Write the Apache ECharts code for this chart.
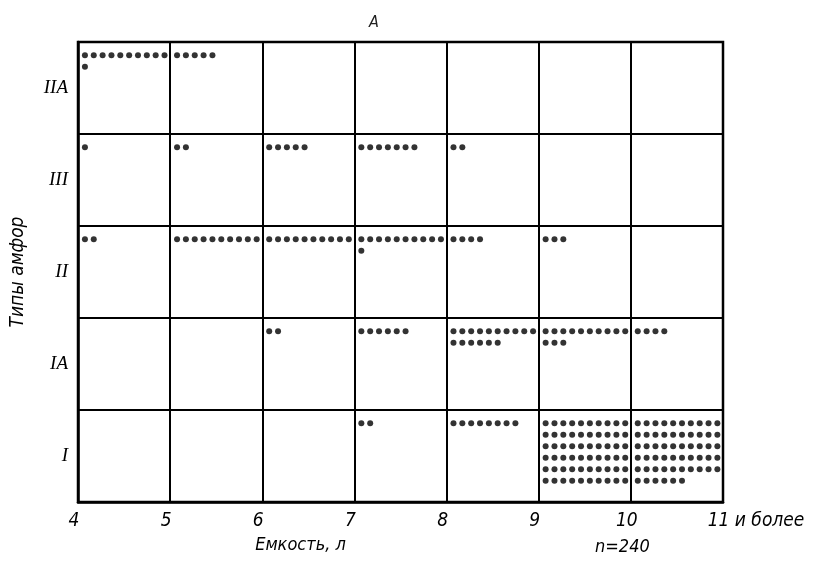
<!DOCTYPE html>
<html>
<head>
<meta charset="utf-8">
<script src="https://cdn.jsdelivr.net/npm/echarts@6/dist/echarts.min.js"></script>
<style>
html,body{margin:0;padding:0;background:#fff;}
#chart{width:813px;height:561px;}
</style>
</head>
<body>
<div id="chart"></div>
<script>
// Capacity classes (x-axis ticks, litres)
var xTicks = [4, 5, 6, 7, 8, 9, 10, 11];
var lastTickLabel = '11 и более';
// Amphora types, bottom to top
var types = ['I', 'IА', 'II', 'III', 'IIА'];
// Number of amphorae per capacity class (4–5, 5–6, ..., 10–11+), per type
var countsI   = [0, 0, 0, 2, 8, 60, 56];
var countsIA  = [0, 0, 2, 6, 16, 13, 4];
var countsII  = [2, 10, 10, 11, 4, 3, 0];
var countsIII = [1, 2, 5, 7, 2, 0, 0];
var countsIIA = [11, 5, 0, 0, 0, 0, 0];
var totalN = 240;

var countsByType = [countsI, countsIA, countsII, countsIII, countsIIA];

// Unit-chart layout: one dot per amphora, 10 per line inside each cell
var perLine = 10;
var dots = [];
countsByType.forEach(function (row, k) {
  row.forEach(function (n, j) {
    for (var i = 0; i < n; i++) {
      dots.push([
        xTicks[j] + 0.075 + (i % perLine) * 0.096,
        (k + 1) - 0.145 - Math.floor(i / perLine) * 0.125
      ]);
    }
  });
});

var FONT = "'Liberation Sans Narrow','DejaVu Sans Condensed','Liberation Sans',sans-serif";
var chart = echarts.init(document.getElementById('chart'));
chart.setOption({
  backgroundColor: '#fff',
  animation: false,
  title: [
    { text: 'А', left: 364, top: 10,
      textStyle: { fontFamily: FONT, fontStyle: 'italic', fontWeight: 'normal', fontSize: 16, color: '#222' } },
    { text: 'n=' + totalN, left: 590, top: 533,
      textStyle: { fontFamily: FONT, fontStyle: 'italic', fontWeight: 'normal', fontSize: 18, color: '#000' } }
  ],
  grid: { left: 78, right: 90, top: 42, bottom: 59, show: true, borderColor: '#000', borderWidth: 2.5, backgroundColor: 'transparent' },
  xAxis: {
    type: 'value', min: 4, max: 11, interval: 1,
    name: 'Емкость, л', nameLocation: 'middle', nameGap: 34,
    nameTextStyle: { fontFamily: FONT, fontStyle: 'italic', fontSize: 18, color: '#000', padding: [0, 200, 0, 0] },
    axisLine: { show: true, lineStyle: { color: '#000', width: 2.5 } },
    axisTick: { show: false },
    splitLine: { show: true, lineStyle: { color: '#000', width: 2 } },
    axisLabel: {
      margin: 10, color: '#000', fontFamily: FONT, fontStyle: 'italic', fontSize: 19,
      formatter: function (v) { return v === 11 ? '{last|' + lastTickLabel + '}' : '{n|' + v + '}'; },
      rich: {
        n: { fontFamily: FONT, fontStyle: 'italic', fontSize: 19, color: '#000', padding: [0, 8, 0, 0] },
        last: { fontFamily: FONT, fontStyle: 'italic', fontSize: 19, color: '#000', padding: [0, 0, 0, 66] }
      }
    }
  },
  yAxis: [
    {
      type: 'value', min: 0, max: 5, interval: 1,
      name: 'Типы амфор', nameLocation: 'middle', nameGap: 50, nameRotate: 90,
      nameTextStyle: { fontFamily: FONT, fontStyle: 'italic', fontSize: 19, color: '#000' },
      axisLine: { show: true, lineStyle: { color: '#000', width: 2.5 } },
      axisTick: { show: false },
      axisLabel: { show: false },
      splitLine: { show: true, lineStyle: { color: '#000', width: 2 } }
    },
    {
      type: 'category', data: types, position: 'left', boundaryGap: true,
      axisLine: { show: false }, axisTick: { show: false }, splitLine: { show: false },
      axisLabel: { margin: 10, color: '#000', fontFamily: "'Liberation Serif','DejaVu Serif',serif", fontStyle: 'italic', fontSize: 19 }
    }
  ],
  series: [{
    type: 'scatter', xAxisIndex: 0, yAxisIndex: 0,
    data: dots, symbol: 'circle', symbolSize: 6,
    itemStyle: { color: '#000' }, silent: true
  }]
});
</script>
</body>
</html>
